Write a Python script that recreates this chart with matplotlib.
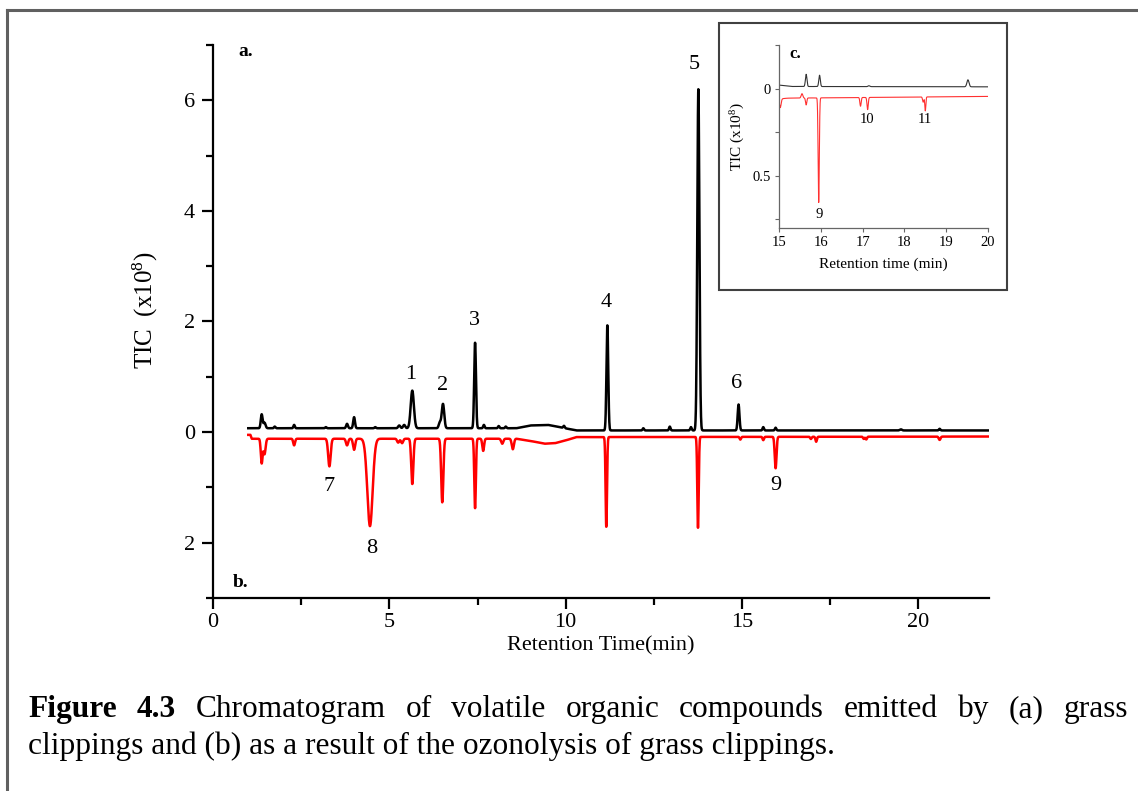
import numpy as np
import matplotlib
matplotlib.use('Agg')
import matplotlib.pyplot as plt
from matplotlib.ticker import MultipleLocator, FuncFormatter, FixedLocator
from matplotlib.lines import Line2D
from matplotlib.patches import Rectangle

plt.rcParams['font.family'] = ['Liberation Serif', 'DejaVu Serif']
plt.rcParams['mathtext.fontset'] = 'custom'
plt.rcParams['mathtext.rm'] = 'Liberation Serif'
plt.rcParams['mathtext.it'] = 'Liberation Serif:italic'
plt.rcParams['mathtext.bf'] = 'Liberation Serif:bold'

# ---------------- data ----------------
# (a) grass clippings: peak retention times (min), heights above baseline (x1e8), widths (min)
a_time   = [1.38, 1.46, 1.75, 2.30, 3.20, 3.80, 4.00, 4.60, 5.28, 5.42, 5.65, 6.43, 6.52, 7.43, 7.68, 8.10, 8.30, 9.95, 11.18, 12.20, 12.95, 13.55, 13.76, 14.90, 15.60, 15.95, 19.50, 20.60]
a_height = [0.25, 0.10, 0.03, 0.06, 0.02, 0.08, 0.20, 0.02, 0.05, 0.06, 0.68, 0.10, 0.44, 1.55, 0.06, 0.04, 0.03, 0.04, 1.90, 0.04, 0.07, 0.06, 6.17, 0.47, 0.06, 0.05, 0.02, 0.03]
a_width  = [0.025, 0.03, 0.02, 0.02, 0.02, 0.025, 0.025, 0.02, 0.03, 0.03, 0.045, 0.03, 0.035, 0.025, 0.02, 0.02, 0.02, 0.02, 0.025, 0.02, 0.02, 0.02, 0.03, 0.025, 0.02, 0.02, 0.03, 0.02]
a_base_t = [1.0, 1.2, 8.6, 9.0, 9.5, 9.9, 10.3, 22.0]
a_base_y = [0.07, 0.07, 0.07, 0.12, 0.13, 0.08, 0.03, 0.03]

# (b) ozonolysis: peak times, depths below baseline (x1e8), widths
b_time   = [1.38, 1.46, 2.30, 3.30, 3.80, 4.00, 4.45, 5.25, 5.36, 5.65, 6.50, 7.43, 7.66, 8.20, 8.50, 11.15, 13.75, 14.95, 15.60, 15.95, 16.95, 17.10, 18.45, 18.52, 20.60]
b_depth  = [0.44, 0.28, 0.12, 0.50, 0.12, 0.20, 1.58, 0.07, 0.08, 0.82, 1.15, 1.26, 0.22, 0.09, 0.19, 1.63, 1.65, 0.05, 0.06, 0.57, 0.04, 0.09, 0.04, 0.05, 0.06]
b_width  = [0.025, 0.03, 0.025, 0.035, 0.03, 0.03, 0.075, 0.03, 0.03, 0.03, 0.03, 0.022, 0.025, 0.03, 0.03, 0.02, 0.02, 0.02, 0.02, 0.025, 0.02, 0.02, 0.02, 0.02, 0.025]
b_base_t = [1.0, 1.06, 1.1, 8.6, 9.0, 9.4, 9.7, 10.0, 10.3, 22.0]
b_base_y = [-0.05, -0.05, -0.12, -0.12, -0.16, -0.21, -0.2, -0.15, -0.09, -0.08]

# inset (c): 15-20 min, y axis inverted (downward positive)
c_a_time   = [15.65, 15.97, 17.15, 19.52]
c_a_height = [0.07, 0.065, 0.005, 0.04]
c_a_width  = [0.018, 0.018, 0.02, 0.025]
c_a_base_t = [15.0, 15.3, 20.0]
c_a_base_y = [-0.02, -0.012, -0.01]

c_b_time   = [15.03, 15.55, 15.65, 15.95, 16.95, 17.12, 18.45, 18.50]
c_b_depth  = [0.05, -0.025, 0.04, 0.60, 0.05, 0.07, 0.03, 0.08]
c_b_width  = [0.02, 0.02, 0.015, 0.014, 0.015, 0.015, 0.015, 0.012]
c_b_base_t = [15.0, 15.2, 17.5, 20.0]
c_b_base_y = [0.06, 0.055, 0.05, 0.045]

peak_labels   = ['1', '2', '3', '4', '5', '6', '7', '8', '9']
peak_label_x  = [5.6, 6.5, 7.4, 11.15, 13.65, 14.85, 3.3, 4.5, 15.95]
peak_label_y  = [1.05, 0.85, 2.02, 2.35, 6.65, 0.88, -0.98, -2.1, -0.97]

inset_labels  = ['9', '10', '11']
inset_label_x = [15.95, 17.1, 18.5]
inset_label_y = [0.72, 0.18, 0.18]


def trace(grid, base_t, base_y, times, amps, widths, sign):
    y = np.interp(grid, base_t, base_y)
    for t, a, w in zip(times, amps, widths):
        y = y + sign * a * np.exp(-0.5 * ((grid - t) / w) ** 2)
    return y

W, H = 1138, 791
fig = plt.figure(figsize=(W / 100, H / 100), dpi=100)

def fx(px):
    return px / W

def fy(py):
    return 1 - py / H

# outer frame
fig.add_artist(Line2D([fx(7), 1.0], [fy(10), fy(10)], color='#606060', lw=2.2))
fig.add_artist(Line2D([fx(7), fx(7)], [fy(10), 0.0], color='#606060', lw=2.2))

# ---------------- main axes ----------------
ax = fig.add_axes([fx(213), fy(598), fx(989) - fx(213), fy(45) - fy(598)])
grid = np.arange(1.0, 22.0001, 0.004)
ya = trace(grid, a_base_t, a_base_y, a_time, a_height, a_width, +1)
yb = trace(grid, b_base_t, b_base_y, b_time, b_depth, b_width, -1)
ax.plot(grid, yb, color='#ff0000', lw=1.8)
ax.plot(grid, ya, color='black', lw=1.8)
ax.set_xlim(0, 22)
ax.set_ylim(-3, 7)
for s in ['top', 'right']:
    ax.spines[s].set_visible(False)
for s in ['left', 'bottom']:
    ax.spines[s].set_linewidth(1.6)
ax.xaxis.set_major_locator(FixedLocator([0, 5, 10, 15, 20]))
ax.xaxis.set_minor_locator(FixedLocator([2.5, 7.5, 12.5, 17.5]))
ax.yaxis.set_major_locator(FixedLocator([-2, 0, 2, 4, 6]))
ax.yaxis.set_minor_locator(FixedLocator([-3, -1, 1, 3, 5, 7]))
ax.yaxis.set_major_formatter(FuncFormatter(lambda v, p: f'{abs(v):g}'))
ax.tick_params(which='major', direction='out', length=8, width=1.6, labelsize=16, pad=5)
ax.tick_params(axis='x', which='major', pad=3)
ax.tick_params(which='minor', direction='out', length=5, width=1.6)
ax.set_xlabel('Retention Time(min)', fontsize=16, labelpad=3)
ax.set_ylabel('TIC  (x10$^{8}$)', fontsize=18)
ax.yaxis.set_label_coords(fx(160 - 213) / (fx(989) - fx(213)), 0.52)
for lab, x, y in zip(peak_labels, peak_label_x, peak_label_y):
    ax.text(x, y, lab, fontsize=16, ha='center', va='center')
ax.text(0.72, 6.88, 'a.', fontsize=14, fontweight='bold', ha='left', va='center')
ax.text(0.55, -2.72, 'b.', fontsize=14, fontweight='bold', ha='left', va='center')

# ---------------- inset ----------------
fig.add_artist(Rectangle((fx(719), fy(290)), fx(1007) - fx(719), fy(23) - fy(290),
                         fill=False, edgecolor='#404040', lw=1.5))
axi = fig.add_axes([fx(779), fy(228), fx(988) - fx(779), fy(45) - fy(228)])
gi = np.arange(15.0, 20.0001, 0.002)
yca = trace(gi, c_a_base_t, c_a_base_y, c_a_time, c_a_height, c_a_width, -1)
ycb = trace(gi, c_b_base_t, c_b_base_y, c_b_time, c_b_depth, c_b_width, +1)
axi.plot(gi, yca, color='#333333', lw=0.8)
axi.plot(gi, ycb, color='#ff3030', lw=0.8)
axi.set_xlim(15, 20)
axi.set_ylim(0.8, -0.25)
for s in ['top', 'right']:
    axi.spines[s].set_visible(False)
for s in ['left', 'bottom']:
    axi.spines[s].set_color('#666666')
    axi.spines[s].set_linewidth(0.9)
axi.xaxis.set_major_locator(MultipleLocator(1))
axi.yaxis.set_major_locator(FixedLocator([0, 0.5]))
axi.yaxis.set_minor_locator(FixedLocator([-0.25, 0.25, 0.75]))
axi.yaxis.set_major_formatter(FuncFormatter(lambda v, p: f'{v:g}'))
axi.tick_params(which='both', direction='out', length=3, width=0.8, color='#666666', labelsize=10.5, pad=3)
axi.set_xlabel('Retention time (min)', fontsize=11, labelpad=6)
axi.set_ylabel('TIC (x10$^{8}$)', fontsize=11, labelpad=4)
for lab, x, y in zip(inset_labels, inset_label_x, inset_label_y):
    axi.text(x, y, lab, fontsize=10.5, ha='center', va='center')
axi.text(15.25, -0.2, 'c.', fontsize=12, fontweight='bold', ha='left', va='center')

# ---------------- caption ----------------
cap_fs = 22.6
line1 = [('Figure', 'bold'), ('4.3', 'bold'), ('Chromatogram', 'normal'), ('of', 'normal'),
         ('volatile', 'normal'), ('organic', 'normal'), ('compounds', 'normal'),
         ('emitted', 'normal'), ('by', 'normal'), ('(a)', 'normal'), ('grass', 'normal')]
line2 = 'clippings and (b) as a result of the ozonolysis of grass clippings.'
x_left, x_right = 28, 1128
texts = [fig.text(fx(x_left), fy(717), w, fontsize=cap_fs, fontweight=wt, va='baseline', ha='left')
         for w, wt in line1]
fig.text(fx(x_left), fy(754), line2, fontsize=cap_fs, va='baseline', ha='left')
fig.canvas.draw()
r = fig.canvas.get_renderer()
widths = [t.get_window_extent(r).width for t in texts]
gap = (x_right - x_left - sum(widths)) / (len(texts) - 1)
xpos = x_left
for t, wdt in zip(texts, widths):
    t.set_x(fx(xpos))
    xpos += wdt + gap

fig.savefig('out.png', dpi=100)
